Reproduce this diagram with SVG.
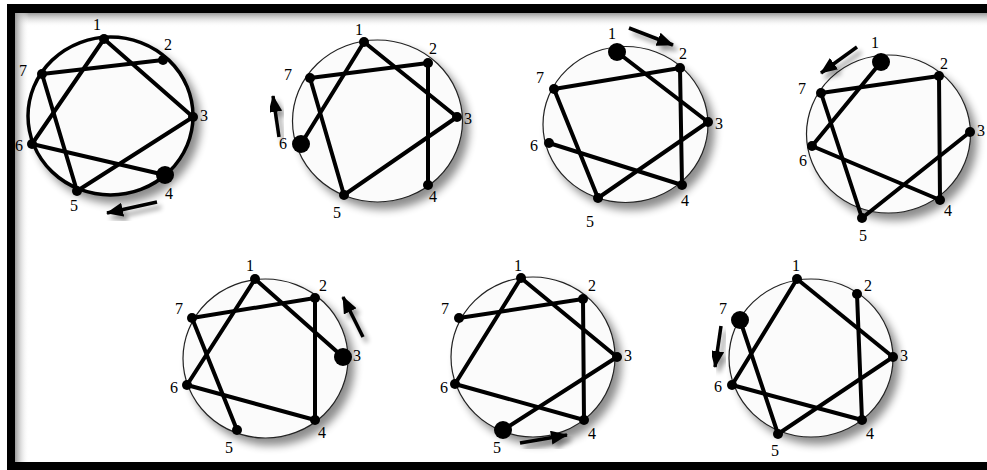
<svg xmlns="http://www.w3.org/2000/svg" width="987" height="470" viewBox="0 0 987 470">
<defs>
<filter id="sh" x="-20%" y="-20%" width="150%" height="150%">
<feGaussianBlur in="SourceAlpha" stdDeviation="4"/>
<feOffset dx="6" dy="7" result="b"/>
<feComponentTransfer><feFuncA type="linear" slope="0.45"/></feComponentTransfer>
<feMerge><feMergeNode/><feMergeNode in="SourceGraphic"/></feMerge>
</filter>
<filter id="sh2" x="-50%" y="-50%" width="220%" height="220%">
<feGaussianBlur in="SourceAlpha" stdDeviation="2.5"/>
<feOffset dx="4" dy="5" result="b"/>
<feComponentTransfer><feFuncA type="linear" slope="0.4"/></feComponentTransfer>
<feMerge><feMergeNode/><feMergeNode in="SourceGraphic"/></feMerge>
</filter>
<marker id="ah" markerUnits="userSpaceOnUse" markerWidth="18" markerHeight="14" refX="16" refY="7" orient="auto">
<path d="M0,0 L17,7 L0,14 z" fill="#000"/>
</marker>
<linearGradient id="gTop" x1="0" y1="0" x2="0" y2="1">
<stop offset="0" stop-color="#9a9a9a"/><stop offset="1" stop-color="#fff" stop-opacity="0"/>
</linearGradient>
<linearGradient id="gLeft" x1="0" y1="0" x2="1" y2="0">
<stop offset="0" stop-color="#9a9a9a"/><stop offset="1" stop-color="#fff" stop-opacity="0"/>
</linearGradient>
</defs>
<style>
.ring{fill:#fbfbfb;stroke:#222;stroke-width:1.2;filter:url(#sh)}
.bold{stroke:#000;stroke-width:3.5}
.edge{stroke:#000;stroke-width:4;stroke-linecap:round;fill:none}
.dot{fill:#000}
.lbl{font-family:"Liberation Serif","Times New Roman",serif;font-size:16px;fill:#000;text-anchor:middle;dominant-baseline:central}
.arrow{stroke:#000;stroke-width:3.5;fill:none;marker-end:url(#ah);filter:url(#sh2)}
</style>
<rect width="987" height="470" fill="#fff"/>
<g id="frame">
<rect x="15" y="13" width="972" height="14" fill="url(#gTop)"/>
<rect x="15" y="13" width="14" height="449" fill="url(#gLeft)"/>
<rect x="7" y="4" width="980" height="9" fill="#000"/>
<rect x="7" y="4" width="8" height="466" fill="#000"/>
<rect x="7" y="462" width="980" height="8" fill="#000"/>
</g>

<g id="d1">
<ellipse class="ring bold" cx="110.5" cy="116" rx="82.5" ry="79"/>
<g id="d1-connectors">
<line class="edge" x1="104" y1="39" x2="193" y2="117"/>
<line class="edge" x1="104" y1="39" x2="32" y2="144"/>
<line class="edge" x1="42" y1="74" x2="163" y2="60"/>
<line class="edge" x1="42" y1="74" x2="77" y2="191"/>
<line class="edge" x1="32" y1="144" x2="165" y2="175"/>
<line class="edge" x1="77" y1="191" x2="193" y2="117"/>
<line class="arrow" x1="157" y1="202" x2="107" y2="213"/>
</g>
<g id="d1-n1"><circle class="dot" cx="104" cy="39" r="5"/><text class="lbl" x="97" y="24">1</text></g>
<g id="d1-n2"><circle class="dot" cx="163" cy="60" r="5"/><text class="lbl" x="168" y="44">2</text></g>
<g id="d1-n3"><circle class="dot" cx="193" cy="117" r="5"/><text class="lbl" x="204" y="115">3</text></g>
<g id="d1-n4"><circle class="dot" cx="165" cy="175" r="9"/><text class="lbl" x="169" y="193">4</text></g>
<g id="d1-n5"><circle class="dot" cx="77" cy="191" r="5"/><text class="lbl" x="74" y="205">5</text></g>
<g id="d1-n6"><circle class="dot" cx="32" cy="144" r="5"/><text class="lbl" x="19" y="145">6</text></g>
<g id="d1-n7"><circle class="dot" cx="42" cy="74" r="5"/><text class="lbl" x="23" y="70">7</text></g>
</g>

<g id="d2">
<ellipse class="ring" cx="377.5" cy="121" rx="85" ry="81"/>
<g id="d2-connectors">
<line class="edge" x1="364" y1="42" x2="301" y2="144"/>
<line class="edge" x1="364" y1="42" x2="457" y2="117"/>
<line class="edge" x1="310" y1="78" x2="428" y2="63"/>
<line class="edge" x1="310" y1="78" x2="344" y2="195"/>
<line class="edge" x1="428" y1="63" x2="428" y2="185"/>
<line class="edge" x1="344" y1="195" x2="457" y2="117"/>
<line class="arrow" x1="279" y1="137" x2="273" y2="96"/>
</g>
<g id="d2-n1"><circle class="dot" cx="364" cy="42" r="5"/><text class="lbl" x="359" y="29">1</text></g>
<g id="d2-n2"><circle class="dot" cx="428" cy="63" r="5"/><text class="lbl" x="433" y="48">2</text></g>
<g id="d2-n3"><circle class="dot" cx="457" cy="117" r="5"/><text class="lbl" x="468" y="118">3</text></g>
<g id="d2-n4"><circle class="dot" cx="428" cy="185" r="5"/><text class="lbl" x="433" y="196">4</text></g>
<g id="d2-n5"><circle class="dot" cx="344" cy="195" r="5"/><text class="lbl" x="337" y="212">5</text></g>
<g id="d2-n6"><circle class="dot" cx="301" cy="144" r="9"/><text class="lbl" x="283" y="143">6</text></g>
<g id="d2-n7"><circle class="dot" cx="310" cy="78" r="5"/><text class="lbl" x="288" y="74">7</text></g>
</g>

<g id="d3">
<ellipse class="ring" cx="625.5" cy="124.5" rx="82.5" ry="78"/>
<g id="d3-connectors">
<line class="edge" x1="617" y1="52" x2="708" y2="122"/>
<line class="edge" x1="554" y1="89" x2="680" y2="68"/>
<line class="edge" x1="554" y1="89" x2="598" y2="198"/>
<line class="edge" x1="680" y1="68" x2="682" y2="185"/>
<line class="edge" x1="549" y1="143" x2="682" y2="185"/>
<line class="edge" x1="598" y1="198" x2="708" y2="122"/>
<line class="arrow" x1="629" y1="28" x2="673" y2="45"/>
</g>
<g id="d3-n1"><circle class="dot" cx="617" cy="52" r="9"/><text class="lbl" x="612" y="33">1</text></g>
<g id="d3-n2"><circle class="dot" cx="680" cy="68" r="5"/><text class="lbl" x="683" y="53">2</text></g>
<g id="d3-n3"><circle class="dot" cx="708" cy="122" r="5"/><text class="lbl" x="719" y="123">3</text></g>
<g id="d3-n4"><circle class="dot" cx="682" cy="185" r="5"/><text class="lbl" x="685" y="200">4</text></g>
<g id="d3-n5"><circle class="dot" cx="598" cy="198" r="5"/><text class="lbl" x="590" y="221">5</text></g>
<g id="d3-n6"><circle class="dot" cx="549" cy="143" r="5"/><text class="lbl" x="534" y="145">6</text></g>
<g id="d3-n7"><circle class="dot" cx="554" cy="89" r="5"/><text class="lbl" x="540" y="77">7</text></g>
</g>

<g id="d4">
<ellipse class="ring" cx="888.5" cy="134" rx="82" ry="79"/>
<g id="d4-connectors">
<line class="edge" x1="881" y1="62" x2="812" y2="146"/>
<line class="edge" x1="821" y1="93" x2="939" y2="76"/>
<line class="edge" x1="821" y1="93" x2="862" y2="218"/>
<line class="edge" x1="939" y1="76" x2="940" y2="200"/>
<line class="edge" x1="812" y1="146" x2="940" y2="200"/>
<line class="edge" x1="862" y1="218" x2="970" y2="132"/>
<line class="arrow" x1="857" y1="47" x2="821" y2="73"/>
</g>
<g id="d4-n1"><circle class="dot" cx="881" cy="62" r="9"/><text class="lbl" x="875" y="42">1</text></g>
<g id="d4-n2"><circle class="dot" cx="939" cy="76" r="5"/><text class="lbl" x="944" y="63">2</text></g>
<g id="d4-n3"><circle class="dot" cx="970" cy="132" r="5"/><text class="lbl" x="981" y="130">3</text></g>
<g id="d4-n4"><circle class="dot" cx="940" cy="200" r="5"/><text class="lbl" x="948" y="210">4</text></g>
<g id="d4-n5"><circle class="dot" cx="862" cy="218" r="5"/><text class="lbl" x="863" y="235">5</text></g>
<g id="d4-n6"><circle class="dot" cx="812" cy="146" r="5"/><text class="lbl" x="803" y="160">6</text></g>
<g id="d4-n7"><circle class="dot" cx="821" cy="93" r="5"/><text class="lbl" x="802" y="88">7</text></g>
</g>

<g id="d5">
<ellipse class="ring" cx="265.5" cy="358.5" rx="82.5" ry="79.5"/>
<g id="d5-connectors">
<line class="edge" x1="255" y1="279" x2="343" y2="357"/>
<line class="edge" x1="255" y1="279" x2="187" y2="385"/>
<line class="edge" x1="192" y1="318" x2="315" y2="298"/>
<line class="edge" x1="192" y1="318" x2="237" y2="430"/>
<line class="edge" x1="315" y1="298" x2="315" y2="420"/>
<line class="edge" x1="187" y1="385" x2="315" y2="420"/>
<line class="arrow" x1="363" y1="337" x2="343" y2="297"/>
</g>
<g id="d5-n1"><circle class="dot" cx="255" cy="279" r="5"/><text class="lbl" x="250" y="265">1</text></g>
<g id="d5-n2"><circle class="dot" cx="315" cy="298" r="5"/><text class="lbl" x="323" y="285">2</text></g>
<g id="d5-n3"><circle class="dot" cx="343" cy="357" r="9"/><text class="lbl" x="357" y="355">3</text></g>
<g id="d5-n4"><circle class="dot" cx="315" cy="420" r="5"/><text class="lbl" x="322" y="432">4</text></g>
<g id="d5-n5"><circle class="dot" cx="237" cy="430" r="5"/><text class="lbl" x="229" y="447">5</text></g>
<g id="d5-n6"><circle class="dot" cx="187" cy="385" r="5"/><text class="lbl" x="174" y="387">6</text></g>
<g id="d5-n7"><circle class="dot" cx="192" cy="318" r="5"/><text class="lbl" x="179" y="308">7</text></g>
</g>

<g id="d6">
<ellipse class="ring" cx="533" cy="357" rx="82" ry="80"/>
<g id="d6-connectors">
<line class="edge" x1="521" y1="278" x2="455" y2="384"/>
<line class="edge" x1="521" y1="278" x2="617" y2="357"/>
<line class="edge" x1="459" y1="318" x2="583" y2="299"/>
<line class="edge" x1="583" y1="299" x2="584" y2="420"/>
<line class="edge" x1="455" y1="384" x2="584" y2="420"/>
<line class="edge" x1="503" y1="430" x2="617" y2="357"/>
<line class="arrow" x1="520" y1="443" x2="567" y2="435"/>
</g>
<g id="d6-n1"><circle class="dot" cx="521" cy="278" r="5"/><text class="lbl" x="518" y="265">1</text></g>
<g id="d6-n2"><circle class="dot" cx="583" cy="299" r="5"/><text class="lbl" x="592" y="285">2</text></g>
<g id="d6-n3"><circle class="dot" cx="617" cy="357" r="5"/><text class="lbl" x="628" y="355">3</text></g>
<g id="d6-n4"><circle class="dot" cx="584" cy="420" r="5"/><text class="lbl" x="592" y="433">4</text></g>
<g id="d6-n5"><circle class="dot" cx="503" cy="430" r="9"/><text class="lbl" x="497" y="447">5</text></g>
<g id="d6-n6"><circle class="dot" cx="455" cy="384" r="5"/><text class="lbl" x="444" y="387">6</text></g>
<g id="d6-n7"><circle class="dot" cx="459" cy="318" r="5"/><text class="lbl" x="445" y="308">7</text></g>
</g>

<g id="d7">
<ellipse class="ring" cx="811" cy="358" rx="82" ry="79"/>
<g id="d7-connectors">
<line class="edge" x1="797" y1="279" x2="732" y2="385"/>
<line class="edge" x1="797" y1="279" x2="893" y2="357"/>
<line class="edge" x1="857" y1="294" x2="862" y2="420"/>
<line class="edge" x1="740" y1="320" x2="778" y2="434"/>
<line class="edge" x1="732" y1="385" x2="862" y2="420"/>
<line class="edge" x1="778" y1="434" x2="893" y2="357"/>
<line class="arrow" x1="721" y1="326" x2="715" y2="367"/>
</g>
<g id="d7-n1"><circle class="dot" cx="797" cy="279" r="5"/><text class="lbl" x="796" y="265">1</text></g>
<g id="d7-n2"><circle class="dot" cx="857" cy="294" r="5"/><text class="lbl" x="868" y="285">2</text></g>
<g id="d7-n3"><circle class="dot" cx="893" cy="357" r="5"/><text class="lbl" x="904" y="355">3</text></g>
<g id="d7-n4"><circle class="dot" cx="862" cy="420" r="5"/><text class="lbl" x="870" y="433">4</text></g>
<g id="d7-n5"><circle class="dot" cx="778" cy="434" r="5"/><text class="lbl" x="775" y="450">5</text></g>
<g id="d7-n6"><circle class="dot" cx="732" cy="385" r="5"/><text class="lbl" x="718" y="386">6</text></g>
<g id="d7-n7"><circle class="dot" cx="740" cy="320" r="9"/><text class="lbl" x="723" y="308">7</text></g>
</g>
</svg>
